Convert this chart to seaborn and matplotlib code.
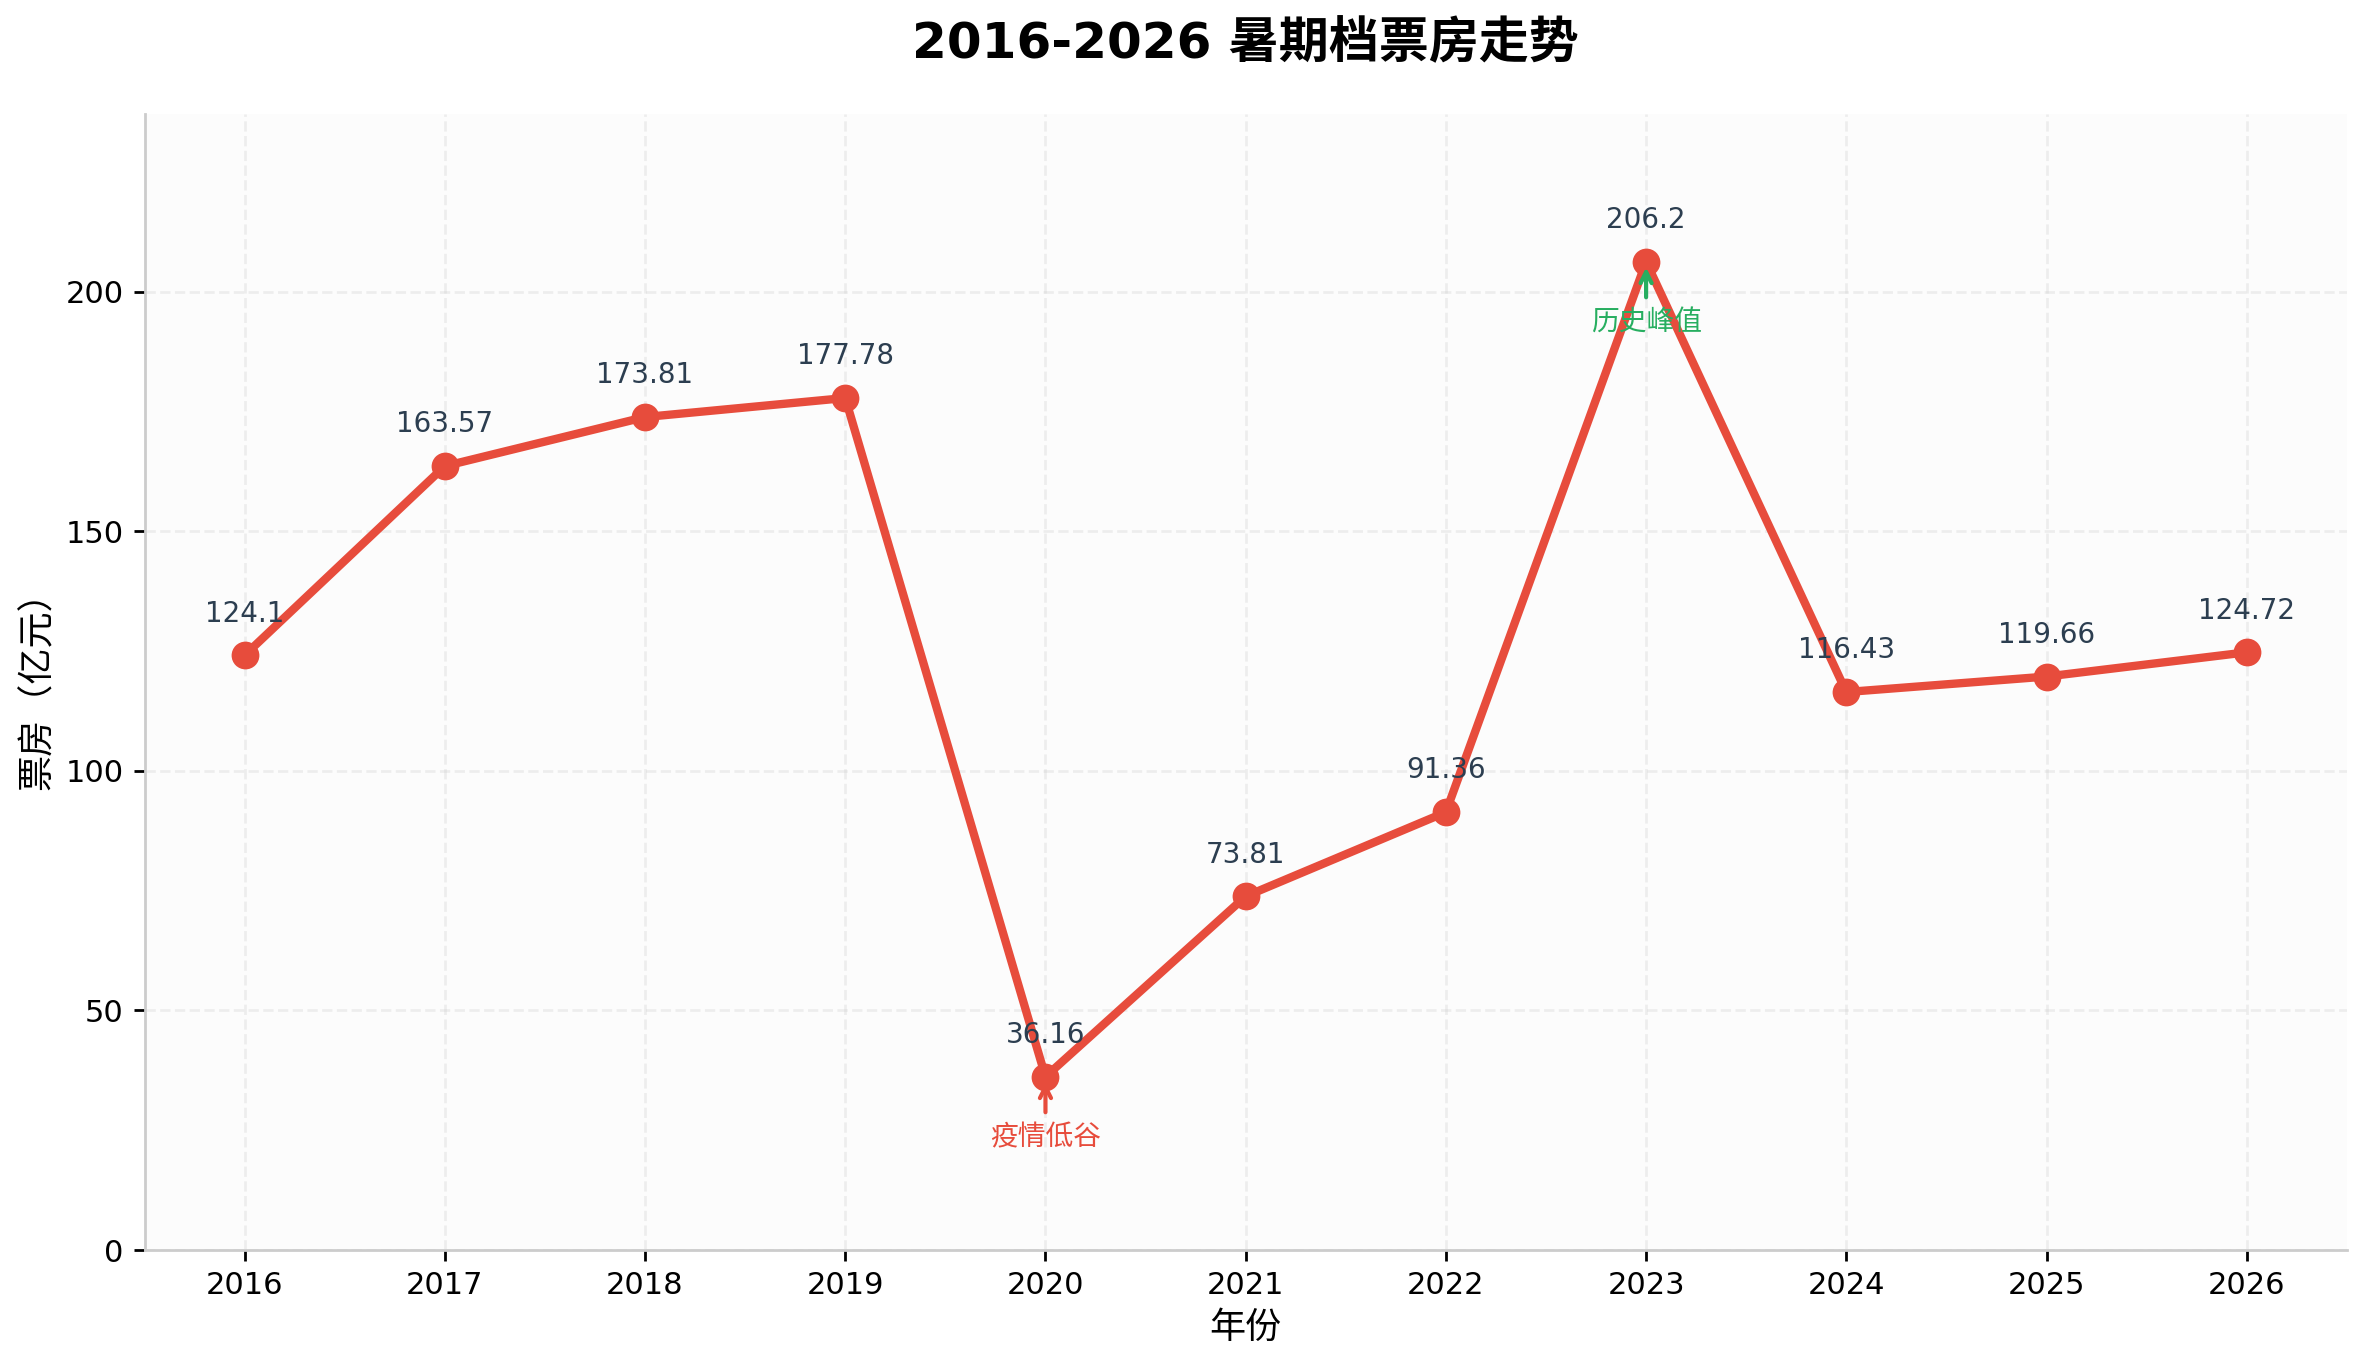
"""Summer box office trend 2016-2026."""

import matplotlib
matplotlib.use("Agg")
import matplotlib.pyplot as plt
import pandas as pd
import seaborn as sns

years = [2016, 2017, 2018, 2019, 2020, 2021, 2022, 2023, 2024, 2025, 2026]
box_office = [124.1, 163.57, 173.81, 177.78, 36.16, 73.81, 91.36, 206.2, 116.43, 119.66, 124.72]

low_year, low_label = 2020, "疫情低谷"
peak_year, peak_label = 2023, "历史峰值"

sns.set_theme(style="white")
plt.rcParams['font.family'] = ['DejaVu Sans', 'Noto Sans CJK SC']
plt.rcParams['axes.unicode_minus'] = False
for key in ['text.color', 'axes.labelcolor', 'xtick.color', 'ytick.color']:
    plt.rcParams[key] = 'black'

df = pd.DataFrame({'year': years, 'value': box_office})

fig, ax = plt.subplots(figsize=(12, 7))
ax.set_facecolor('#fcfcfc')

sns.lineplot(data=df, x='year', y='value', ax=ax, color='#e74c3c', linewidth=3,
             marker='o', markersize=10, markeredgewidth=0)

for x, y in zip(years, box_office):
    ax.annotate(f"{y:g}", (x, y), xytext=(0, 10), textcoords='offset points',
                ha='center', va='bottom', fontsize=10, color='#2c3e50')

ax.annotate(low_label, (low_year, box_office[years.index(low_year)]), xytext=(0, -22),
            textcoords='offset points', ha='center', va='center', fontsize=10,
            color='#e74c3c', arrowprops=dict(arrowstyle='->', color='#e74c3c', lw=1.5))
ax.annotate(peak_label, (peak_year, box_office[years.index(peak_year)]), xytext=(0, -22),
            textcoords='offset points', ha='center', va='center', fontsize=10,
            color='#27ae60', arrowprops=dict(arrowstyle='->', color='#27ae60', lw=1.5))

ax.set_title('2016-2026 暑期档票房走势', fontsize=18, fontweight='bold', pad=20)
ax.set_xlabel('年份', fontsize=13)
ax.set_ylabel('票房（亿元）', fontsize=13)
ax.set_xticks(years)
ax.set_xlim(2015.5, 2026.5)
ax.set_ylim(0, max(box_office) * 1.15)
ax.tick_params(axis='both', labelsize=11, length=4, width=1, left=True, bottom=True)

ax.grid(True, linestyle='--', alpha=0.3, color='#cccccc')
sns.despine(ax=ax)
for side in ['left', 'bottom']:
    ax.spines[side].set_color('#cccccc')
    ax.spines[side].set_linewidth(1)

plt.tight_layout()
plt.savefig('out.png', dpi=200, bbox_inches='tight', facecolor='white')
plt.close()
